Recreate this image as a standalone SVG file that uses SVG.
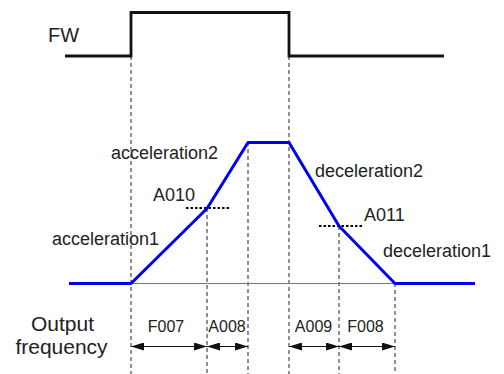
<svg xmlns="http://www.w3.org/2000/svg" width="504" height="374" viewBox="0 0 504 374">
<style>
text{font-family:"Liberation Sans",Arial,sans-serif;fill:#222}
.lab{font-size:18px}
.dim{font-size:16px;text-anchor:middle}
.big{font-size:21px;text-anchor:middle}
.dash{stroke:#222;stroke-width:1;stroke-dasharray:4,3;fill:none}
.dot{stroke:#000;stroke-width:1.8;stroke-dasharray:2.5,2;fill:none}
.arr{stroke:#111;stroke-width:1.2;fill:none;marker-start:url(#ah);marker-end:url(#ah)}
</style>
<defs>
<marker id="ah" viewBox="0 0 13 8" refX="13" refY="4" markerWidth="13" markerHeight="8" markerUnits="userSpaceOnUse" orient="auto-start-reverse">
<path d="M0,0 L13,4 L0,8 Z" fill="#111"/>
</marker>
</defs>
<g id="guides">
<line class="dash" x1="131" y1="56" x2="131" y2="374"/>
<line class="dash" x1="207" y1="208" x2="207" y2="374"/>
<line class="dash" x1="248" y1="142" x2="248" y2="374"/>
<line class="dash" x1="289" y1="56" x2="289" y2="374"/>
<line class="dash" x1="339" y1="226" x2="339" y2="374"/>
<line class="dash" x1="395" y1="283" x2="395" y2="374"/>
<line class="dot" x1="186" y1="208" x2="229" y2="208"/>
<line class="dot" x1="319" y1="226" x2="362" y2="226"/>
</g>
<g id="fw-signal">
<polyline points="65,56 131,56 131,12.5 289,12.5 289,56 444,56" fill="none" stroke="#111" stroke-width="2.8"/>
<text x="48" y="42" style="font-size:20px">FW</text>
</g>
<g id="output-frequency">
<line x1="131" y1="283.5" x2="395" y2="283.5" stroke="#777" stroke-width="1.2"/>
<polyline points="69,283.5 131,283.5 207,208.5 248,142.5 289,142.5 339,226 395,283.5 475,283.5" fill="none" stroke="#0000f0" stroke-width="3" stroke-linejoin="round"/>
</g>
<g id="labels">
<text class="lab" x="111" y="159">acceleration2</text>
<text class="lab" x="153" y="201">A010</text>
<text class="lab" x="52" y="245">acceleration1</text>
<text class="lab" x="315" y="176.5">deceleration2</text>
<text class="lab" x="364" y="220.5">A011</text>
<text class="lab" x="383" y="256.5">deceleration1</text>
<text class="big" x="62.5" y="331">Output</text>
<text class="big" x="61.5" y="354">frequency</text>
</g>
<g id="connectors">
<line class="arr" x1="131" y1="346.5" x2="207" y2="346.5"/>
<line class="arr" x1="207" y1="346.5" x2="248" y2="346.5"/>
<line class="arr" x1="289" y1="346.5" x2="339" y2="346.5"/>
<line class="arr" x1="339" y1="346.5" x2="395" y2="346.5"/>
<text class="dim" x="166" y="332">F007</text>
<text class="dim" x="227" y="332">A008</text>
<text class="dim" x="313.5" y="332">A009</text>
<text class="dim" x="365.5" y="332">F008</text>
</g>
</svg>
